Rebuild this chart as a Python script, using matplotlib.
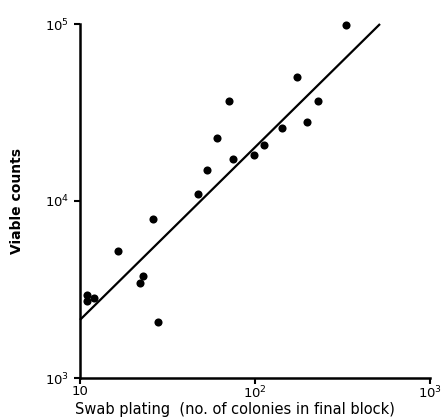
import matplotlib
matplotlib.use("Agg")
import matplotlib.pyplot as plt
from matplotlib.ticker import FixedLocator, NullLocator

# Data
swab_x = [331, 174, 71, 229, 198, 143, 61, 112, 99, 75, 53, 47, 26, 16.5, 23, 22, 11, 12, 11, 28]
viable_y = [98600, 50100, 36700, 36700, 27900, 25800, 22700, 20700, 18200, 17300,
            15000, 10970, 7900, 5200, 3770, 3440, 2940, 2830, 2720, 2070]
fit_x = [10, 518]
fit_y = [2130, 100000]

x_ticks = [10, 100, 1000]
x_ticklabels = ["10", "$10^2$", "$10^3$"]
y_ticks = [1000, 10000, 100000]
y_ticklabels = ["$10^3$", "$10^4$", "$10^5$"]

plt.rcParams['font.family'] = ['DejaVu Sans']
plt.rcParams['mathtext.default'] = 'regular'

fig = plt.figure(figsize=(4.42, 4.20), dpi=100)
ax = fig.add_axes([80/442, 42/420, 350/442, 354/420])

ax.plot(fit_x, fit_y, color='black', lw=1.6, solid_capstyle='butt', clip_on=False)
ax.scatter(swab_x, viable_y, s=34, color='black', zorder=3, linewidths=0, clip_on=False)

ax.set_xscale('log')
ax.set_yscale('log')
ax.set_xlim(10, 1000)
ax.set_ylim(1000, 100000)

ax.xaxis.set_major_locator(FixedLocator(x_ticks))
ax.yaxis.set_major_locator(FixedLocator(y_ticks))
ax.xaxis.set_minor_locator(NullLocator())
ax.yaxis.set_minor_locator(NullLocator())
ax.set_xticklabels(x_ticklabels)
ax.set_yticklabels(y_ticklabels)

for side in ['top', 'right']:
    ax.spines[side].set_visible(False)
for side in ['left', 'bottom']:
    ax.spines[side].set_linewidth(1.8)

ax.tick_params(axis='both', direction='out', length=4, width=1.5, labelsize=9.5)
ax.tick_params(axis='x', pad=1)
ax.tick_params(axis='y', pad=4)

ax.set_xlabel("Swab plating  (no. of colonies in final block)", fontsize=10.5)
ax.xaxis.set_label_coords(0.443, -0.068)
ax.set_ylabel("Viable counts", fontsize=10, fontweight='bold')
ax.yaxis.set_label_coords(-0.16, 0.5)

fig.savefig("out.png", dpi=100)
